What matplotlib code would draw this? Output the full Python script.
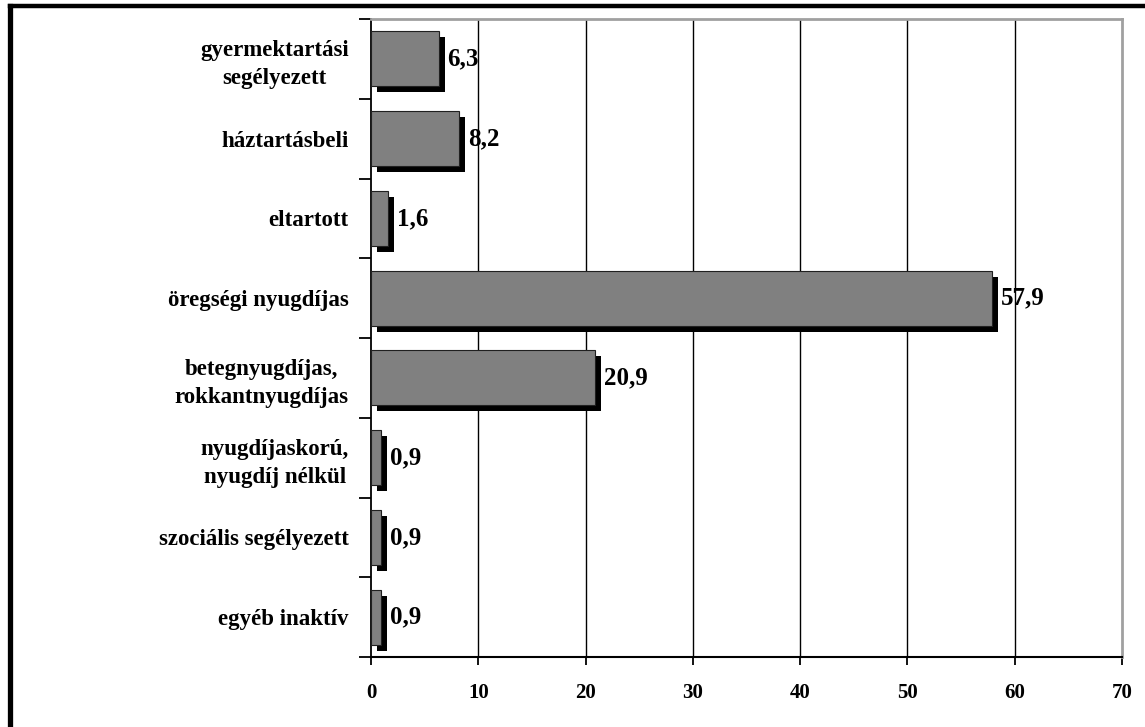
import matplotlib
matplotlib.use("Agg")
import matplotlib.pyplot as plt
from matplotlib.transforms import ScaledTranslation
from matplotlib.lines import Line2D

categories = [
    "gyermektartási\nsegélyezett",
    "háztartásbeli",
    "eltartott",
    "öregségi nyugdíjas",
    "betegnyugdíjas,\nrokkantnyugdíjas",
    "nyugdíjaskorú,\nnyugdíj nélkül",
    "szociális segélyezett",
    "egyéb inaktív",
]
values = [6.3, 8.2, 1.6, 57.9, 20.9, 0.9, 0.9, 0.9]
value_labels = ["6,3", "8,2", "1,6", "57,9", "20,9", "0,9", "0,9", "0,9"]
x_ticks = [0, 10, 20, 30, 40, 50, 60, 70]

plt.rcParams['font.family'] = ['Liberation Serif', 'DejaVu Serif']
plt.rcParams['font.weight'] = 'bold'

fig = plt.figure(figsize=(11.45, 7.27), dpi=100)
ax = fig.add_axes([371/1145, 1-657/727, (1122-371)/1145, (657-19)/727])

ypos = list(range(len(categories)))
bh = 0.69

# shadow bars
shadow_tr = ax.transData + ScaledTranslation(6/100, -6/100, fig.dpi_scale_trans)
ax.barh(ypos, values, height=bh, color='black', edgecolor='none',
        transform=shadow_tr, zorder=2)
# front bars
ax.barh(ypos, values, height=bh, color='#808080', edgecolor='#202020',
        linewidth=0.8, zorder=3)

for y, v, lab in zip(ypos, values, value_labels):
    ax.annotate(lab, xy=(v, y), xytext=(9, 0), textcoords='offset pixels',
                ha='left', va='center', fontsize=18, fontweight='bold', zorder=5)

ax.set_xlim(0, 70)
ax.set_ylim(len(categories)-0.5, -0.5)
ax.set_xticks(x_ticks)
ax.set_xticklabels([str(t) for t in x_ticks], fontsize=15, fontweight='bold')
ax.set_yticks(ypos)
ax.set_yticklabels(categories, fontsize=16.5, fontweight='bold',
                   multialignment='center', linespacing=1.4)
ax.set_yticks([i - 0.5 for i in range(len(categories)+1)], minor=True)
ax.tick_params(axis='y', which='major', length=0, pad=16)
ax.tick_params(axis='y', which='minor', length=9, width=1.3, color='black', direction='out')
ax.tick_params(axis='x', which='major', length=6, width=1.3, color='black', direction='out', pad=13)

for x in x_ticks[1:-1]:
    ax.axvline(x, color='black', linewidth=1.0, zorder=1)

ax.spines['left'].set_color('black')
ax.spines['left'].set_linewidth(1.3)
ax.spines['bottom'].set_color('black')
ax.spines['bottom'].set_linewidth(1.5)
ax.spines['top'].set_color('#a0a0a0')
ax.spines['top'].set_linewidth(2)
ax.spines['right'].set_color('#a0a0a0')
ax.spines['right'].set_linewidth(2)

# outer frame (left and top edges visible)
W, H = 1145, 727
fig.add_artist(Line2D([9.5/W, 9.5/W], [0, 1-6/H], transform=fig.transFigure,
                      color='black', linewidth=3.8, solid_capstyle='projecting'))
fig.add_artist(Line2D([9.5/W, 1], [1-6/H, 1-6/H], transform=fig.transFigure,
                      color='black', linewidth=3.2, solid_capstyle='projecting'))

fig.savefig("out.png", dpi=100)
